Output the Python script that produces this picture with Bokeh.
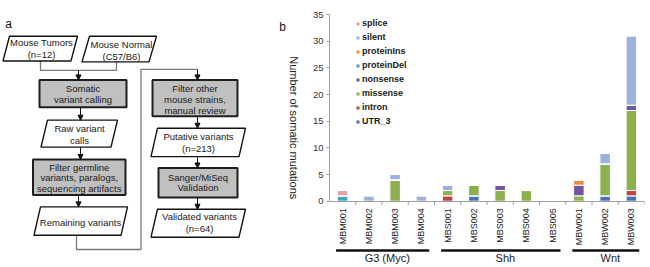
import math
from bokeh.plotting import figure
from bokeh.models import (Range1d, FactorRange, ColumnDataSource, Label, Legend,
                          LegendItem, FixedTicker, Arrow, NormalHead)
from bokeh.layouts import row
from bokeh.core.properties import value
from bokeh.embed import file_html
from bokeh.resources import INLINE

FONT = "Liberation Sans"

# ---------------- panel b data ----------------
samples = ["MBM001", "MBM002", "MBM003", "MBM004",
           "MBS001", "MBS002", "MBS003", "MBS004", "MBS005",
           "MBW001", "MBW002", "MBW003"]
groups = ["G3 (Myc)", "Shh", "Wnt"]
group_sizes = [4, 5, 3]
mutation_types = ["UTR_3", "intron", "missense", "nonsense",
                  "proteinDel", "proteinIns", "silent", "splice"]
UTR_3      = [0, 0, 0, 0, 0, 1, 0, 0, 0, 0, 1, 1]
intron     = [0, 0, 0, 0, 1, 0, 0, 0, 0, 0, 0, 1]
missense   = [0, 0, 4, 0, 1, 2, 2, 2, 0, 1, 6, 15]
nonsense   = [0, 0, 0, 0, 0, 0, 1, 0, 0, 2, 0, 1]
proteinDel = [1, 0, 0, 0, 0, 0, 0, 0, 0, 0, 0, 0]
proteinIns = [0, 0, 0, 0, 0, 0, 0, 0, 0, 1, 0, 0]
silent     = [0, 1, 1, 1, 1, 0, 0, 0, 0, 0, 2, 13]
splice     = [1, 0, 0, 0, 0, 0, 0, 0, 0, 0, 0, 0]
type_colors = ["#4673B6", "#BE4442", "#8DB04E", "#74569C",
               "#3FA5B8", "#EF8A3A", "#9BB3DC", "#E3A2A6"]
y_ticks = [0, 5, 10, 15, 20, 25, 30, 35]
y_title = "Number of somatic mutations"

# ---------------- panel a data ----------------
io_texts = [["Mouse Tumors", "(n=12)"], ["Mouse Normal", "(C57/B6)"],
            ["Raw variant", "calls"], ["Remaining variants"],
            ["Putative variants", "(n=213)"], ["Validated variants", "(n=64)"]]
process_texts = [["Somatic", "variant calling"],
                 ["Filter germline", "variants, paralogs,", "sequencing artifacts"],
                 ["Filter other", "mouse strains,", "manual review"],
                 ["Sanger/MiSeq", "Validation"]]

# layout geometry of the flowchart (pixels)
io_geom = [  # top, bottom, left, right, skew, text x, text ys
    (23, 49, 9, 77, 6.5, 41, [30, 42]),
    (23, 50, 89, 156, 7.5, 121, [31.5, 44]),
    (111.5, 140, 47, 117, 6.5, 79, [120.5, 132.5]),
    (203, 233, 40, 127, 6.5, 80, [219]),
    (120, 150, 157, 245, 6.5, 198, [129, 141]),
    (205.5, 235, 157, 245, 6.5, 199, [213.5, 225.5]),
]
proc_geom = [  # left, right, top, bottom, text ys
    (39, 126, 69, 98, [78, 90]),
    (32.5, 125, 153, 190.5, [161, 172.5, 184]),
    (152, 237, 69, 107.5, [78, 90, 101.5]),
    (158, 237, 162, 193, [171.5, 183]),
]
connectors = [
    [(40, 49), (40, 59), (116, 59), (116, 50)],
    [(76, 233), (76, 248), (140.5, 248), (140.5, 58), (197, 58)],
]
arrows = [(78, 59, 69), (80, 98, 111.5), (80, 140, 153), (78, 190.5, 203),
          (197, 58, 69), (197, 107.5, 120), (197, 150, 162), (197, 193, 205.5)]

# ---------------- panel a (plus margin labels of panel b) ----------------
fa = figure(width=300, height=267, x_range=Range1d(0, 300), y_range=Range1d(267, 0),
            output_backend="svg", toolbar_location=None, x_axis_location=None,
            y_axis_location=None, min_border=0, outline_line_color=None, title=None)
fa.xgrid.visible = False
fa.ygrid.visible = False

# connectors
fa.multi_line(xs=[[p[0] for p in c] for c in connectors],
              ys=[[p[1] for p in c] for c in connectors],
              line_color="#7a7a7a", line_width=1.3)

# process boxes
fa.quad(left=[g[0] for g in proc_geom], right=[g[1] for g in proc_geom],
        top=[g[2] for g in proc_geom], bottom=[g[3] for g in proc_geom],
        fill_color="#c0c0c0", line_color="#1e1e1e", line_width=2)

# io parallelograms
pxs, pys = [], []
for (t, b, l, r, s, _, _) in io_geom:
    pxs.append([l, r, r - s, l - s])
    pys.append([t, t, b, b])
fa.patches(pxs, pys, fill_color="white", line_color="#111111", line_width=1.4)

for (x, y0, y1) in arrows:
    fa.add_layout(Arrow(x_start=x, y_start=y0, x_end=x, y_end=y1,
                        line_color="#111111", line_width=1,
                        end=NormalHead(size=5, fill_color="#111111", line_color="#111111")))

tx, ty, tt = [], [], []
for g, lines in zip(io_geom, io_texts):
    for yy, s in zip(g[6], lines):
        tx.append(g[5]); ty.append(yy); tt.append(s)
for g, lines in zip(proc_geom, process_texts):
    for yy, s in zip(g[4], lines):
        tx.append((g[0] + g[1]) / 2); ty.append(yy); tt.append(s)
fa.text(x=tx, y=ty, text=tt, text_align="center", text_baseline="middle",
        text_font=value(FONT), text_font_size="9.5px", text_color="#1a1a1a")
fa.add_layout(Label(x=8, y=10, text="a", text_align="center", text_baseline="middle",
                    text_font=FONT, text_font_size="12px", text_color="#111111"))
fa.add_layout(Label(x=282, y=13, text="b", text_align="center", text_baseline="middle",
                    text_font=FONT, text_font_size="12px", text_color="#111111"))
fa.add_layout(Label(x=293, y=119.5, text=y_title, angle=-math.pi / 2,
                    text_align="center", text_baseline="middle",
                    text_font=FONT, text_font_size="11px", text_color="#1a1a1a"))

# ---------------- panel b ----------------
fb = figure(width=350, height=267, x_range=FactorRange(factors=samples),
            y_range=Range1d(-12.43, 35), output_backend="svg", toolbar_location=None,
            min_border_left=29, min_border_right=6, min_border_top=14, min_border_bottom=0,
            outline_line_color=None, title=None)
fb.xgrid.visible = False
fb.ygrid.visible = False

src = ColumnDataSource(dict(sample=samples, UTR_3=UTR_3, intron=intron, missense=missense,
                            nonsense=nonsense, proteinDel=proteinDel, proteinIns=proteinIns,
                            silent=silent, splice=splice))
rs = fb.vbar_stack(mutation_types, x="sample", width=0.4, source=src,
                   fill_color=type_colors, line_color="white", line_width=1)

items = [LegendItem(label=t, renderers=[r]) for t, r in zip(mutation_types, rs)][::-1]
legend = Legend(items=items, location=(26, 141), glyph_width=5, glyph_height=5,
                label_height=10, label_standoff=2, spacing=4, padding=0, margin=0,
                border_line_color=None, background_fill_alpha=0,
                label_text_font=FONT, label_text_font_size="9px",
                label_text_font_style="bold", label_text_color="#1a1a1a")
fb.add_layout(legend)

fb.yaxis.ticker = FixedTicker(ticks=y_ticks)
fb.yaxis.bounds = (0, 35)
fb.yaxis.axis_line_color = "#a0a0a0"
fb.yaxis.major_tick_line_color = "#a0a0a0"
fb.yaxis.major_tick_out = 3
fb.yaxis.major_tick_in = 0
fb.yaxis.minor_tick_line_color = None
fb.yaxis.major_label_standoff = 3
fb.yaxis.major_label_text_font = FONT
fb.yaxis.major_label_text_font_size = "9.5px"
fb.yaxis.major_label_text_color = "#333333"

fb.xaxis.fixed_location = 0
fb.xaxis.axis_line_color = "#a0a0a0"
fb.xaxis.major_tick_line_color = None
fb.xaxis.major_tick_out = 0
fb.xaxis.major_tick_in = 0
fb.xaxis.major_label_standoff = 7
fb.xaxis.major_label_orientation = math.pi / 2
fb.xaxis.major_label_text_font = FONT
fb.xaxis.major_label_text_font_size = "9px"
fb.xaxis.major_label_text_color = "#222222"

# small ticks between categories
bx = list(range(1, len(samples) + 1))
fb.segment(x0=bx, y0=[0] * len(bx), x1=bx, y1=[-0.7] * len(bx),
           line_color="#a0a0a0", line_width=1)

# group bars and names
gx0, gx1, gxc = [], [], []
start = 0
for n in group_sizes:
    gx0.append(start + 0.25)
    gx1.append(start + n - 0.2)
    gxc.append(start + n / 2 + 0.2)
    start += n
fb.segment(x0=gx0, y0=[-9.24] * 3, x1=gx1, y1=[-9.24] * 3,
           line_color="#111111", line_width=2.6)
fb.text(x=gxc, y=[-10.6] * 3, text=groups, text_align="center", text_baseline="middle",
        text_font=value(FONT), text_font_size="11px", text_color="#1a1a1a")

layout = row(fa, fb)
open("out.html", "w").write(file_html(layout, INLINE))
